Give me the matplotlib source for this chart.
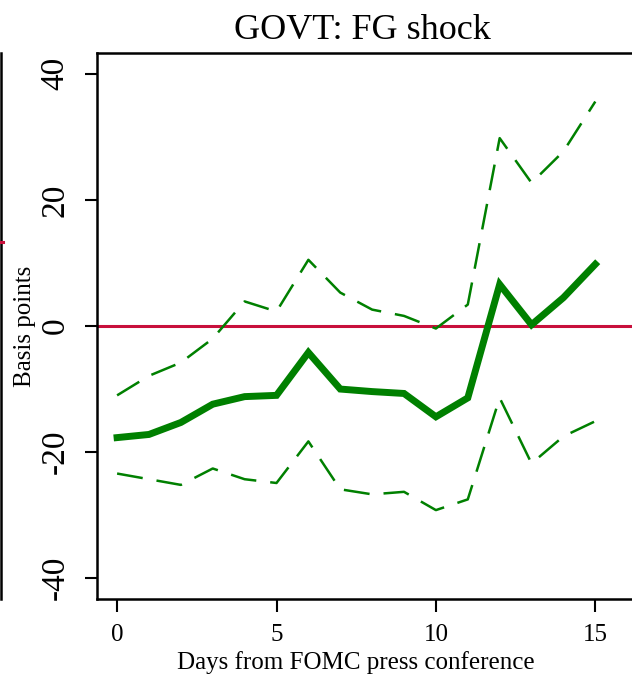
import matplotlib
matplotlib.use("Agg")
import matplotlib.pyplot as plt
from matplotlib.lines import Line2D

# days after the press conference
days = [0, 1, 2, 3, 4, 5, 6, 7, 8, 9, 10, 11, 12, 13, 14, 15]

# point estimate and confidence band (basis points)
estimate = [-17.7, -17.2, -15.3, -12.4, -11.2, -11.0, -4.2, -10.0,
            -10.4, -10.7, -14.4, -11.4, 6.6, 0.2, 4.5, 9.8]
upper = [-11.0, -7.9, -5.8, -2.0, 3.9, 2.3, 10.5, 5.3,
         2.6, 1.6, -0.4, 3.4, 29.8, 22.7, 27.7, 35.6]
lower = [-23.4, -24.3, -25.2, -22.6, -24.3, -24.9, -18.3, -25.9,
         -26.7, -26.3, -29.2, -27.5, -11.4, -21.8, -17.5, -15.1]

xticks = [0, 5, 10, 15]
yticks = [-40, -20, 0, 20, 40]

GREEN = "#008000"
RED = "#C8103C"


def plot_irf():
    plt.rcParams['font.family'] = ['Liberation Serif', 'DejaVu Serif']
    plt.rcParams['axes.unicode_minus'] = False
    fig = plt.figure(figsize=(6.32, 6.77), dpi=100)
    ax = fig.add_axes([0.1535, 0.1152, 0.851, 0.8065])

    ax.axhline(0, color=RED, lw=2.2, zorder=1)
    ax.plot(days, upper, color=GREEN, lw=1.8, dashes=(10.4, 5.6), zorder=2)
    ax.plot(days, lower, color=GREEN, lw=1.8, dashes=(10.4, 5.6), zorder=2)
    ax.plot(days, estimate, color=GREEN, lw=5, solid_joinstyle='miter', zorder=3)

    ax.set_xlim(-0.63, 16.24)
    ax.set_ylim(-43.3, 43.3)
    ax.set_xticks(xticks)
    ax.set_yticks(yticks)
    ax.tick_params(axis='x', labelsize=18, length=9, width=1.5, pad=9)
    ax.tick_params(axis='y', labelsize=24, length=9, width=1.5, pad=10,
                   labelrotation=90)
    for lab in ax.get_yticklabels():
        lab.set_va('center')

    for side in ['left', 'bottom', 'top']:
        ax.spines[side].set_linewidth(1.8)
    ax.spines['right'].set_visible(False)

    ax.set_title("GOVT: FG shock", fontsize=26, pad=10, x=0.4935)
    ax.set_xlabel("Days from FOMC press conference", fontsize=18)
    ax.xaxis.set_label_coords(0.481, -0.095)
    ax.set_ylabel("Basis points", fontsize=18)
    ax.yaxis.set_label_coords(-0.113, 0.5)

    # edge of the neighbouring panel, cut off on the left
    fig.add_artist(Line2D([0.001, 0.001], [1 - 53 / 677, 1 - 599 / 677],
                          color='black', lw=1.8, transform=fig.transFigure))
    fig.add_artist(Line2D([0.0, 0.005], [1 - 242 / 677, 1 - 242 / 677],
                          color=RED, lw=2.2, transform=fig.transFigure))

    plt.savefig("out.png", dpi=100)
    plt.close(fig)


def main():
    plot_irf()


if __name__ == '__main__':
    main()
